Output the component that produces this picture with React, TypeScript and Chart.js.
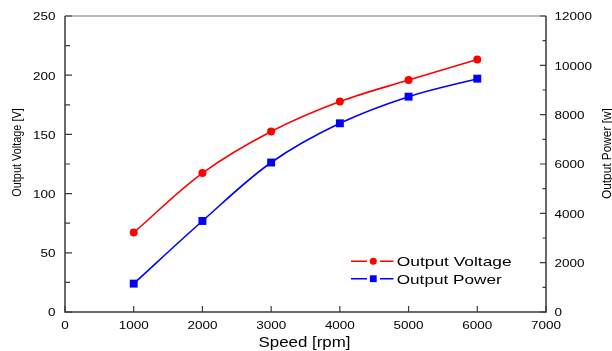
import React, { useEffect, useRef } from 'react';
import { Chart, registerables } from 'chart.js';

Chart.register(...registerables);

// ---- data ----
const speeds = [1000, 2000, 3000, 4000, 5000, 6000];
const voltage = [67.1, 117.3, 152.4, 177.7, 195.9, 213.2];
const power = [1150, 3690, 6060, 7650, 8730, 9460];

const seriesNames = ['Output Voltage', 'Output Power'];
const xTicks = [0, 1000, 2000, 3000, 4000, 5000, 6000, 7000];
const leftTicks = [0, 50, 100, 150, 200, 250];
const leftMinor = [25, 75, 125, 175, 225];
const rightTicks = [0, 2000, 4000, 6000, 8000, 10000, 12000];
const rightMinor = [1000, 3000, 5000, 7000, 9000, 11000];
const xTitle = 'Speed [rpm]';
const leftTitle = 'Output Voltage [V]';
const rightTitle = 'Output Power [w]';

const FONT = '"Liberation Sans", Arial, sans-serif';
const RED = '#ff0000';
const BLUE = '#0000ff';
const AXIS = '#3a3a3a';

function drawText(
  ctx: CanvasRenderingContext2D,
  text: string,
  x: number,
  y: number,
  size: number,
  align: 'left' | 'center' | 'right',
  opts: { sx?: number; width?: number; rot?: number } = {}
) {
  ctx.save();
  ctx.translate(x, y);
  if (opts.rot) ctx.rotate(opts.rot);
  ctx.font = `${size}px ${FONT}`;
  const raw = ctx.measureText(text).width;
  const sx = opts.width ? opts.width / raw : opts.sx || 1;
  const w = raw * sx;
  const ox = align === 'center' ? -w / 2 : align === 'right' ? -w : 0;
  ctx.translate(ox, 0);
  ctx.scale(sx, 1);
  ctx.textAlign = 'left';
  ctx.textBaseline = 'alphabetic';
  ctx.fillStyle = '#000';
  ctx.fillText(text, 0, 0);
  ctx.restore();
}

const framePlugin = {
  id: 'frameTicks',
  afterDraw(chart: any) {
    const ctx: CanvasRenderingContext2D = chart.ctx;
    const { left, right, top, bottom } = chart.chartArea;
    const xs = chart.scales.x;
    const yl = chart.scales.y;
    const yr = chart.scales.y1;
    ctx.save();
    // top border (lighter)
    ctx.strokeStyle = '#7a7a7a';
    ctx.lineWidth = 1.2;
    ctx.beginPath();
    ctx.moveTo(left, top);
    ctx.lineTo(right, top);
    ctx.stroke();
    // axes
    ctx.strokeStyle = AXIS;
    ctx.lineWidth = 1.5;
    ctx.beginPath();
    ctx.moveTo(left, top);
    ctx.lineTo(left, bottom);
    ctx.lineTo(right, bottom);
    ctx.lineTo(right, top);
    ctx.stroke();
    // ticks
    ctx.lineWidth = 1.2;
    ctx.beginPath();
    xTicks.forEach((v) => {
      const px = xs.getPixelForValue(v);
      ctx.moveTo(px, bottom);
      ctx.lineTo(px, bottom - 6);
    });
    leftTicks.forEach((v) => {
      const py = yl.getPixelForValue(v);
      ctx.moveTo(left, py);
      ctx.lineTo(left + 7, py);
    });
    leftMinor.forEach((v) => {
      const py = yl.getPixelForValue(v);
      ctx.moveTo(left, py);
      ctx.lineTo(left + 5, py);
    });
    rightTicks.forEach((v) => {
      const py = yr.getPixelForValue(v);
      ctx.moveTo(right, py);
      ctx.lineTo(right - 6, py);
    });
    rightMinor.forEach((v) => {
      const py = yr.getPixelForValue(v);
      ctx.moveTo(right, py);
      ctx.lineTo(right - 3.5, py);
    });
    ctx.stroke();
    ctx.restore();

    // tick labels
    const TS = 10.7;
    const TSX = 1.26;
    xTicks.forEach((v) => {
      drawText(ctx, String(v), xs.getPixelForValue(v), 328.5, TS, 'center', { sx: TSX });
    });
    leftTicks.forEach((v) => {
      drawText(ctx, String(v), 55.5, yl.getPixelForValue(v) + 4.3, TS, 'right', { sx: TSX });
    });
    rightTicks.forEach((v) => {
      drawText(ctx, String(v), 554.5, yr.getPixelForValue(v) + 4.3, TS, 'left', { sx: TSX });
    });

    // axis titles
    drawText(ctx, xTitle, (left + right) / 2 - 1, 347.3, 14, 'center', { width: 92 });
    drawText(ctx, leftTitle, 20.7, 152.5, 13.5, 'center', { width: 88.4, rot: -Math.PI / 2 });
    drawText(ctx, rightTitle, 611, 153.6, 13.5, 'center', { width: 90.7, rot: -Math.PI / 2 });

    // legend
    const items = [
      { name: seriesNames[0], color: RED, shape: 'circle', y: 261.3, base: 266.3, w: 115 },
      { name: seriesNames[1], color: BLUE, shape: 'rect', y: 278.7, base: 284, w: 105 },
    ];
    ctx.save();
    items.forEach((it) => {
      ctx.strokeStyle = it.color;
      ctx.fillStyle = it.color;
      ctx.lineWidth = 1.6;
      ctx.beginPath();
      ctx.moveTo(351, it.y);
      ctx.lineTo(367, it.y);
      ctx.moveTo(380, it.y);
      ctx.lineTo(393.5, it.y);
      ctx.stroke();
      if (it.shape === 'circle') {
        ctx.beginPath();
        ctx.arc(373.3, it.y, 3.5, 0, Math.PI * 2);
        ctx.fill();
      } else {
        ctx.fillRect(373.3 - 3.4, it.y - 3.4, 6.8, 6.8);
      }
    });
    ctx.restore();
    items.forEach((it) => {
      drawText(ctx, it.name, 396.7, it.base, 13, 'left', { width: it.w });
    });
  },
};

export default function App() {
  const ref = useRef<HTMLCanvasElement | null>(null);
  useEffect(() => {
    if (!ref.current) return;
    const chart = new Chart(ref.current, {
      type: 'line',
      data: {
        datasets: [
          {
            label: seriesNames[0],
            data: speeds.map((s, i) => ({ x: s, y: voltage[i] })),
            yAxisID: 'y',
            borderColor: RED,
            backgroundColor: RED,
            borderWidth: 1.6,
            tension: 0.35,
            pointStyle: 'circle',
            pointRadius: 4,
            pointBorderWidth: 0,
            pointBackgroundColor: RED,
            fill: false,
          },
          {
            label: seriesNames[1],
            data: speeds.map((s, i) => ({ x: s, y: power[i] })),
            yAxisID: 'y1',
            borderColor: BLUE,
            backgroundColor: BLUE,
            borderWidth: 1.6,
            tension: 0.35,
            pointStyle: 'rect',
            pointRadius: 5.6,
            pointBorderWidth: 0,
            pointBackgroundColor: BLUE,
            fill: false,
          },
        ],
      },
      options: {
        animation: false,
        responsive: false,
        devicePixelRatio: 1,
        layout: { padding: { left: 65, right: 66, top: 16, bottom: 39 } },
        plugins: { legend: { display: false }, tooltip: { enabled: false } },
        scales: {
          x: { type: 'linear', min: 0, max: 7000, display: false },
          y: { type: 'linear', position: 'left', min: 0, max: 250, display: false },
          y1: { type: 'linear', position: 'right', min: 0, max: 12000, display: false },
        },
      },
      plugins: [framePlugin],
    });
    return () => chart.destroy();
  }, []);
  return (
    <div style={{ position: 'absolute', left: 0, top: 0, width: 612, height: 351, background: '#fff' }}>
      <canvas ref={ref} width={612} height={351} style={{ display: 'block' }} />
    </div>
  );
}
